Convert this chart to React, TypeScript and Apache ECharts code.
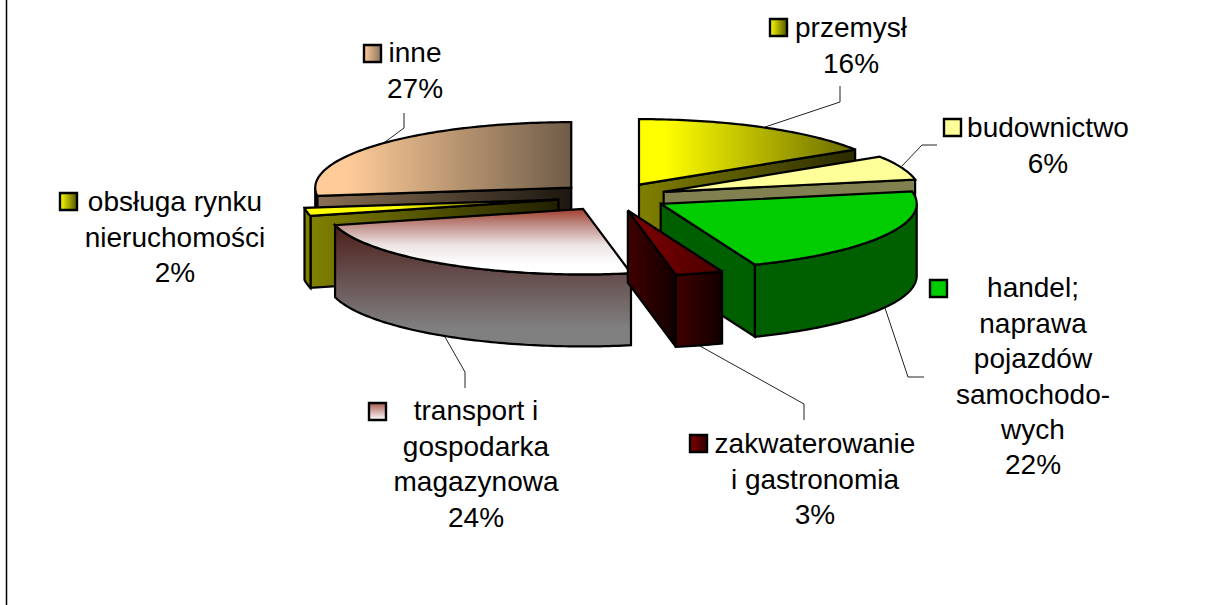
import React, { useEffect, useRef } from "react";
import * as echarts from "echarts";

// ---- data ----
const categories = [
  "przemysł",
  "budownictwo",
  "handel;\nnaprawa\npojazdów\nsamochodo-\nwych",
  "zakwaterowanie\ni gastronomia",
  "transport i\ngospodarka\nmagazynowa",
  "obsługa rynku\nnieruchomości",
  "inne",
];
const shares = [16, 6, 22, 3, 24, 2, 27];
const paintOrder = [6, 0, 1, 5, 2, 4, 3];

// ---- pie geometry ----
const CX = 612.5;
const CY = 197;
const RX = 256;
const TILT = 0.256;
const EXPLODE = 55;
const DEPTH = 72;
const total = shares.reduce((a, b) => a + b, 0);
const starts = shares.map((_, i) => shares.slice(0, i).reduce((a, b) => a + b, 0));

// ---- styles: [dir, stops]; dir h = left→right, v = top→bottom ----
type Fill = [string, [number, string][]];
const topFills: Fill[] = [
  ["h", [[0, "#FFFF00"], [0.12, "#FFFF00"], [1, "#696900"]]],
  ["h", [[0, "#FFFF99"], [1, "#FFFF99"]]],
  ["h", [[0, "#00CC00"], [1, "#00CC00"]]],
  ["h", [[0, "#800000"], [1, "#4A0000"]]],
  ["v", [[0, "#A33D2A"], [0.2, "#B98078"], [0.55, "#EDE4E4"], [0.85, "#FFFFFF"], [1, "#FFFFFF"]]],
  ["h", [[0, "#FFFF00"], [0.35, "#FFFF00"], [1, "#333300"]]],
  ["h", [[0, "#FFCC99"], [0.12, "#FFCC99"], [1, "#6F5C48"]]],
];
const sideFills: Fill[] = [
  ["h", [[0, "#808000"], [1, "#2A2A00"]]],
  ["h", [[0, "#808050"], [1, "#808050"]]],
  ["h", [[0, "#006000"], [1, "#006000"]]],
  ["h", [[0, "#400000"], [1, "#120000"]]],
  ["v", [[0, "#4D1F1A"], [0.45, "#685252"], [0.85, "#808080"], [1, "#808080"]]],
  ["h", [[0, "#808000"], [1, "#202000"]]],
  ["h", [[0, "#8A6F55"], [1, "#1C1710"]]],
];
const outerFills: Fill[] = [
  sideFills[0],
  sideFills[1],
  sideFills[2],
  sideFills[3],
  sideFills[4],
  ["h", [[0, "#808000"], [1, "#808000"]]],
  sideFills[6],
];
const keyFills: Fill[] = [
  ["h", [[0, "#FFFF00"], [1, "#555500"]]],
  ["h", [[0, "#FFFF99"], [1, "#FFFF99"]]],
  ["h", [[0, "#00CC00"], [1, "#00CC00"]]],
  ["h", [[0, "#800000"], [1, "#300000"]]],
  ["v", [[0, "#A85C50"], [1, "#FFFFFF"]]],
  ["h", [[0, "#FFFF00"], [1, "#555500"]]],
  ["h", [[0, "#FFCC99"], [1, "#8A7560"]]],
];

// ---- label layout: text centre x, first line centre y, key left x, key top y ----
const labelLayout = [
  [851, 28, 769, 18],
  [1048, 128, 943, 118],
  [1033, 288, 929, 279],
  [815, 444, 689, 434],
  [476, 411, 368, 402],
  [175, 202, 59, 192],
  [415, 53, 363, 44],
];
const leaderLines = [
  [[765, 127], [840, 102], [840, 86]],
  [[902, 166], [922, 145], [937, 145]],
  [[885, 308], [908, 377], [924, 377]],
  [[700, 346], [804, 404], [804, 420]],
  [[445, 337], [465, 372], [465, 388]],
  null,
  [[385, 142], [404, 128], [404, 113]],
];

const FONT_SIZE = 28;
const LINE_H = 35.4;
const STROKE = 2.2;

function grad(f: Fill) {
  const v = f[0] === "v";
  return new echarts.graphic.LinearGradient(
    0, 0, v ? 0 : 1, v ? 1 : 0,
    f[1].map(([offset, color]) => ({ offset, color }))
  );
}

const rad = (pct: number) => (pct / total) * Math.PI * 2;

function renderSlice(_: any, api: any) {
  const value = api.value(0) as number;
  const start = api.value(1) as number;
  const idx = api.value(2) as number;
  const a0 = rad(start);
  const a1 = rad(start + value);
  const mid = (a0 + a1) / 2;
  const ax = CX + EXPLODE * Math.sin(mid);
  const ay = CY - EXPLODE * TILT * Math.cos(mid);
  const rim = (a: number, dy = 0) => [
    ax + RX * Math.sin(a),
    ay - RX * TILT * Math.cos(a) + dy,
  ];
  const arc = (from: number, to: number, dy = 0) => {
    const n = Math.max(2, Math.ceil(((to - from) * 180) / Math.PI));
    const pts: number[][] = [];
    for (let i = 0; i <= n; i++) pts.push(rim(from + ((to - from) * i) / n, dy));
    return pts;
  };
  const style = (fill: any) => ({
    fill,
    stroke: "#000",
    lineWidth: STROKE,
    lineJoin: "miter",
    miterLimit: 3,
  });
  const poly = (points: number[][], fill: any) => ({
    type: "polygon",
    shape: { points },
    style: style(fill),
  });
  const children: any[] = [];
  const radialWall = (a: number) =>
    poly(
      [[ax, ay], rim(a), rim(a, DEPTH), [ax, ay + DEPTH]],
      grad(sideFills[idx])
    );
  if (Math.sin(a0) < 0) children.push(radialWall(a0));
  if (Math.sin(a1) > 0) children.push(radialWall(a1));
  const f0 = Math.max(a0, Math.PI / 2);
  const f1 = Math.min(a1, (3 * Math.PI) / 2);
  if (f1 > f0) {
    children.push(
      poly([...arc(f0, f1), ...arc(f0, f1, DEPTH).reverse()], grad(outerFills[idx]))
    );
  }
  children.push(poly([[ax, ay], ...arc(a0, a1)], grad(topFills[idx])));
  return { type: "group", children };
}

export default function App() {
  const ref = useRef<HTMLDivElement>(null);
  useEffect(() => {
    const chart = echarts.init(ref.current!, undefined, { renderer: "svg" });
    const graphics: any[] = [
      {
        type: "line",
        shape: { x1: 6.5, y1: 0, x2: 6.5, y2: 605 },
        style: { stroke: "#000", lineWidth: 1.5 },
        z: 1,
      },
    ];
    leaderLines.forEach((pts) => {
      if (pts)
        graphics.push({
          type: "polyline",
          shape: { points: pts },
          style: { stroke: "#222", lineWidth: 1, fill: "none" },
          z: 1,
        });
    });
    categories.forEach((name, i) => {
      const [tx, ty, kx, ky] = labelLayout[i];
      graphics.push({
        type: "rect",
        shape: { x: kx + 1, y: ky + 1, width: 17, height: 17 },
        style: { fill: grad(keyFills[i]), stroke: "#000", lineWidth: 2.4 },
        z: 5,
      });
      graphics.push({
        type: "text",
        x: tx,
        y: ty - LINE_H / 2,
        style: {
          text: `${name}\n${shares[i]}%`,
          font: `${FONT_SIZE}px "Liberation Sans", Arial, sans-serif`,
          fill: "#000",
          align: "center",
          verticalAlign: "top",
          lineHeight: LINE_H,
        },
        z: 5,
      });
    });
    chart.setOption({
      animation: false,
      backgroundColor: "#fff",
      graphic: graphics,
      series: [
        {
          type: "custom",
          coordinateSystem: "none",
          silent: true,
          clip: false,
          z: 3,
          renderItem: renderSlice,
          data: paintOrder.map((i) => [shares[i], starts[i], i]),
        },
      ],
    });
    return () => chart.dispose();
  }, []);
  return (
    <div
      ref={ref}
      style={{ position: "fixed", left: 0, top: 0, width: 1214, height: 605 }}
    />
  );
}
